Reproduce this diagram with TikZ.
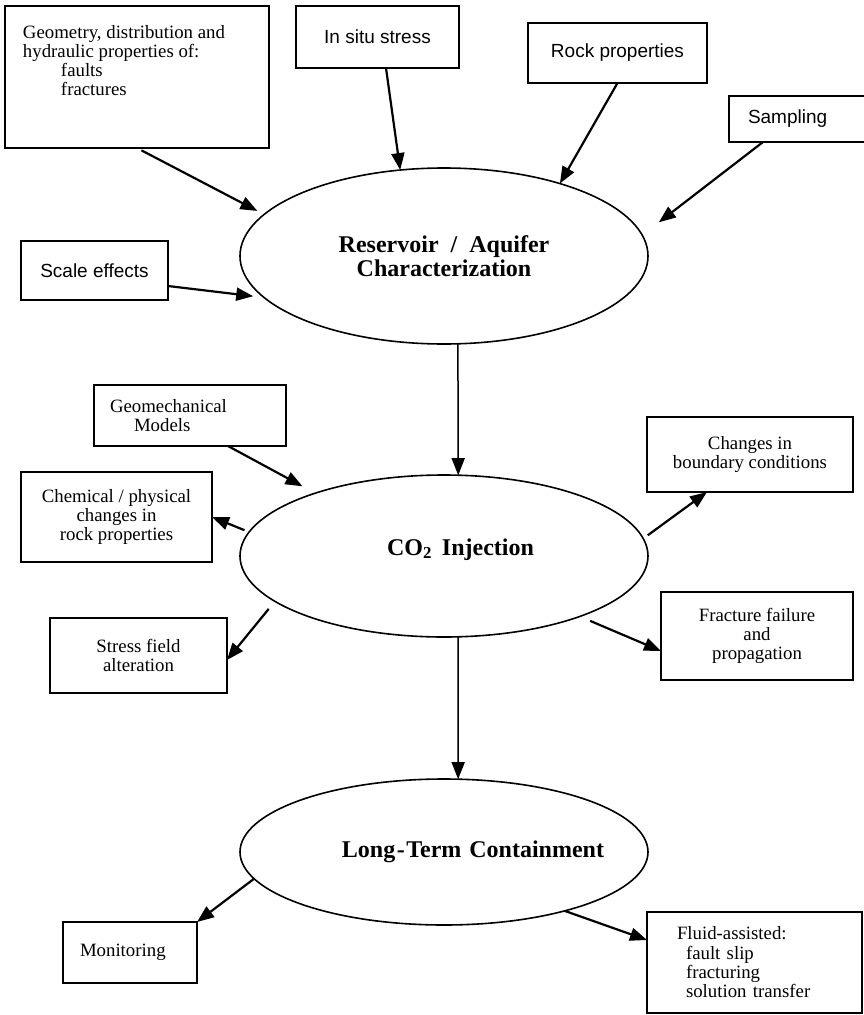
\documentclass[tikz,border=0pt]{standalone}
\usepackage{fontspec}
\setmainfont{Liberation Serif}
\setsansfont{Liberation Sans}
\usetikzlibrary{arrows.meta,shapes.geometric}
\begin{document}
\begin{tikzpicture}[x=1pt,y=-1pt,
  frame/.style={draw, line width=2pt, rectangle, inner sep=0pt, outer sep=0pt, font=\fontsize{18.8}{19.3}\selectfont},
  box/.style={frame, align=center},
  lbox/.style={frame, align=left, anchor=west},
  sbox/.style={box, font=\sffamily\fontsize{19}{21}\selectfont},
  oval/.style={draw, ellipse, line width=1.6pt, minimum width=408pt, inner sep=0pt, outer sep=0pt, align=center, font=\bfseries\fontsize{24}{24}\selectfont},
  arr/.style={line width=2.2pt, -{Triangle[length=17pt,width=13pt]}},
  varr/.style={line width=1.5pt, -{Triangle[length=17pt,width=13pt]}},
]
\path[fill=white, use as bounding box] (0,0) rectangle (864,1015);

% boxes
\node[frame, anchor=north west] (geo) at (5,6)
  {\parbox[t][142pt][t]{264pt}{\raggedright\leftskip=18pt\vspace*{19pt}Geometry, distribution and\\hydraulic properties of:\\\hspace*{38pt}faults\\\hspace*{38pt}fractures}};
\node[sbox, minimum width=163pt, minimum height=62pt] (situ) at (377.5,37) {In situ stress};
\node[sbox, minimum width=179pt, minimum height=60pt] (rock) at (617.5,53) {Rock properties};
\node[lbox, font=\sffamily\fontsize{19}{21}\selectfont, text width=112pt, inner xsep=19pt, minimum height=46pt] (samp) at (729,119) {Sampling};
\node[sbox, minimum width=147pt, minimum height=59pt] (scale) at (94.5,270.5) {Scale effects};
\node[lbox, text width=160pt, inner xsep=16pt, minimum height=61pt] (geom) at (94,415.5) {Geomechanical\\\hspace*{24pt}Models};
\node[box, minimum width=191pt, minimum height=90pt] (chem) at (116.5,517) {Chemical / physical\\changes in\\rock properties};
\node[box, minimum width=177pt, minimum height=75pt] (stress) at (138.5,655.5) {Stress field\\alteration};
\node[box, minimum width=206pt, minimum height=75pt] (chg) at (750,454.5) {Changes in\\boundary conditions};
\node[box, minimum width=192pt, minimum height=88pt] (frac) at (757,636) {Fracture failure\\and\\propagation};
\node[lbox, text width=100pt, inner xsep=17pt, minimum height=61pt] (mon) at (63,952.5) {Monitoring};
\node[lbox, text width=155pt, inner xsep=30pt, minimum height=101pt] (fluid) at (647,962.5)
  {Fluid-assisted:\\\hspace*{9pt}fault slip\\\hspace*{9pt}fracturing\\\hspace*{9pt}solution transfer};

% ellipses
\node[oval, minimum height=176pt] (res) at (444,256) {Reservoir\hspace{12pt}/\hspace{12pt}Aquifer\\Characterization};
\node[oval, minimum height=162pt, text height=10pt, text depth=12pt] (inj) at (444,556)
  {\makebox[0pt]{\hspace*{33pt}CO\textsubscript{2}\hspace{10pt}Injection}};
\node[oval, minimum height=146pt] (ltc) at (444,852)
  {\makebox[0pt]{\hspace*{58pt}Long\kern1.5pt-\kern1.5pt Term\hspace{8pt}Containment}};

% connectors
\draw[arr, shorten <=5pt, shorten >=7.6pt] (geo.south) -- (res.167.5);
\draw[arr] ([xshift=8.5pt]situ.south) -- (res.117.9);
\draw[arr] (rock.south) -- (res.32);
\draw[arr, shorten >=21pt] ([xshift=34pt]samp.south west) -- (res.6.8);
\draw[arr, shorten >=11pt] ([yshift=-15.5pt]scale.east) -- (res.193);
\draw[varr] (res.-81.6) -- (inj.80.9);
\draw[arr, shorten >=14.5pt] ([xshift=38pt]geom.south) -- (inj.154.9);
\draw[arr, shorten <=5pt] (inj.173.5) -- (chem.east);
\draw[arr, shorten <=9.8pt] (inj.195.9) -- ([yshift=-4.5pt]stress.east);
\draw[arr, shorten <=5.6pt] (inj.5.9) -- ([xshift=-43pt]chg.south);
\draw[arr, shorten <=11.3pt] (inj.-24.6) -- ([yshift=-15pt]frac.west);
\draw[varr] (inj.-80.9) -- (ltc.79.9);
\draw[arr] (ltc.188.4) -- (mon.north east);
\draw[arr] (ltc.-26.8) -- ([yshift=22.5pt]fluid.west);
\end{tikzpicture}
\end{document}
